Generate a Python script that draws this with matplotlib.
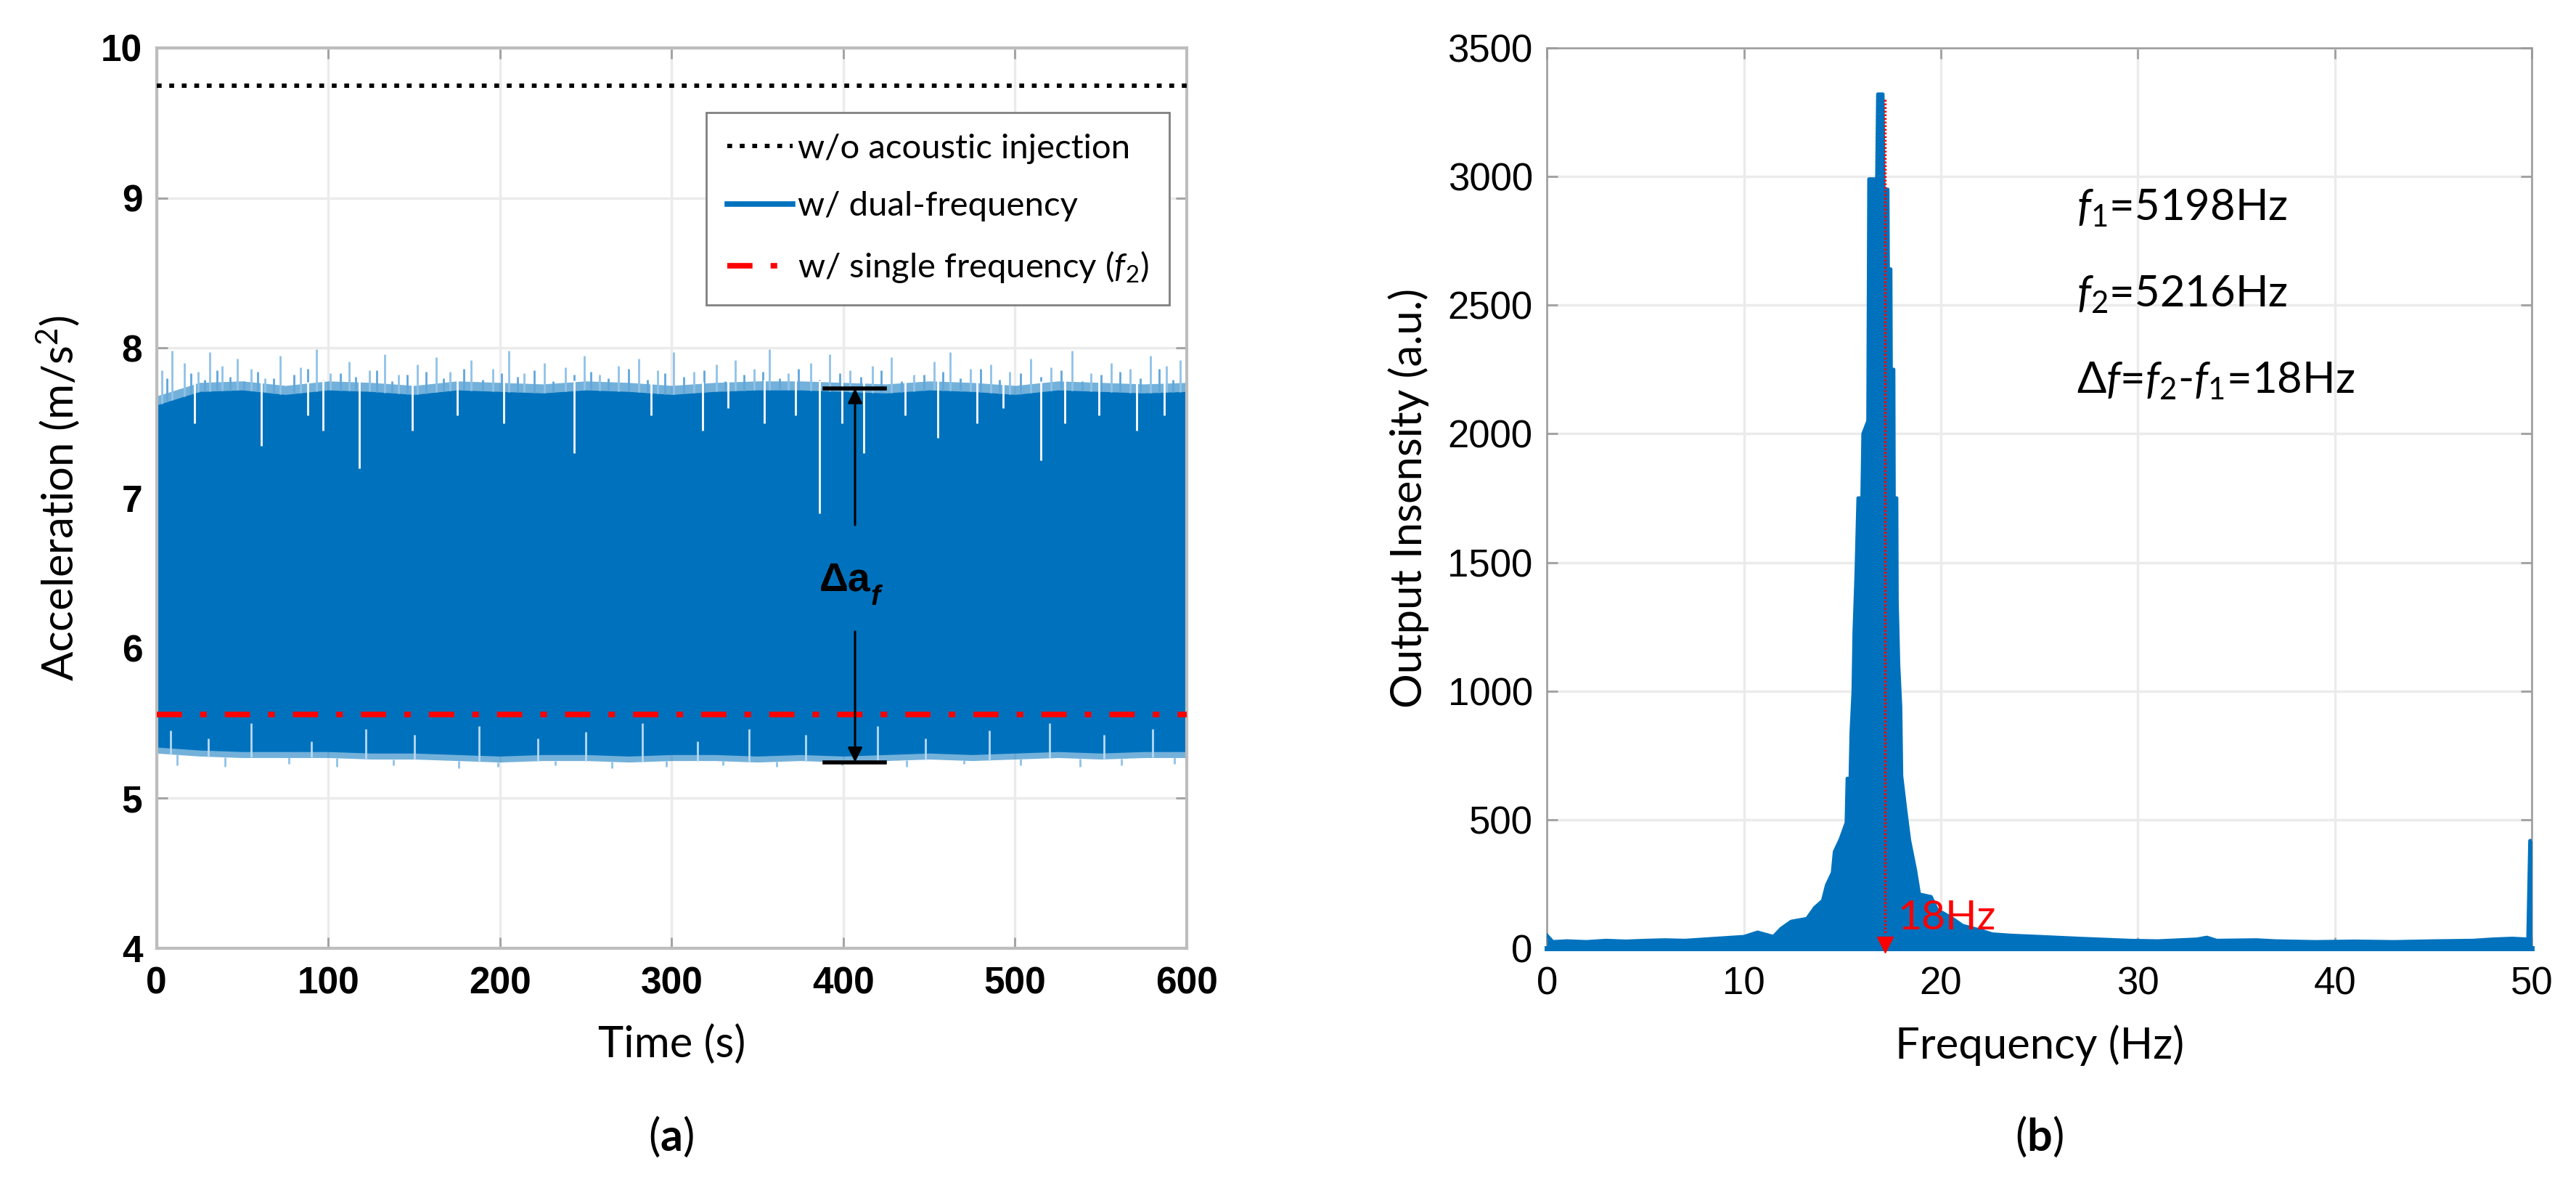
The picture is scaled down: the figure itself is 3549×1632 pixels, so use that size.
import numpy as np
import matplotlib
matplotlib.use("Agg")
import matplotlib.pyplot as plt

plt.rcParams['mathtext.fontset'] = 'custom'
plt.rcParams['mathtext.rm'] = 'Lato'
plt.rcParams['mathtext.it'] = 'Lato:italic'
plt.rcParams['mathtext.bf'] = 'Lato:bold'
plt.rcParams['lines.scale_dashes'] = False

BLUE = '#0072BD'
LIGHT = '#8fc2e8'
LABEL_FONT = 'Lato'
TICK_FONT = 'Liberation Sans'

#---------------- panel (a) data: acceleration vs time ----------------
t_env = [0, 25, 50, 75, 100, 125, 150, 175, 200, 225, 250, 275, 300,
         325, 350, 375, 400, 425, 450, 475, 500, 525, 550, 575, 600]
upper_env = [7.62, 7.71, 7.72, 7.69, 7.72, 7.71, 7.69, 7.72, 7.71, 7.70, 7.72, 7.71, 7.69,
             7.71, 7.72, 7.72, 7.71, 7.70, 7.72, 7.71, 7.69, 7.72, 7.71, 7.70, 7.71]
lower_env = [5.30, 5.28, 5.27, 5.27, 5.27, 5.26, 5.26, 5.25, 5.24, 5.25, 5.25, 5.24, 5.25,
             5.25, 5.24, 5.25, 5.24, 5.25, 5.26, 5.25, 5.26, 5.27, 5.26, 5.27, 5.27]

# tall light spikes above the band
up_spike_t = [3, 9, 16, 24, 31, 38, 47, 55, 63, 72, 84, 93, 101, 112, 124, 133, 141, 152, 163, 171,
              183, 196, 205, 214, 226, 238, 249, 258, 269, 281, 292, 301, 313, 326, 337, 348, 357, 368, 381, 392,
              404, 417, 428, 441, 453, 462, 474, 486, 497, 509, 521, 533, 544, 556, 567, 579, 588, 596]
up_spike_v = [7.85, 7.98, 7.90, 7.84, 7.97, 7.88, 7.93, 7.86, 7.80, 7.95, 7.87, 7.99, 7.83, 7.91, 7.85, 7.96, 7.82, 7.89, 7.94, 7.84,
              7.92, 7.86, 7.98, 7.83, 7.90, 7.87, 7.95, 7.82, 7.88, 7.93, 7.85, 7.97, 7.84, 7.89, 7.92, 7.86, 7.99, 7.83, 7.90, 7.96,
              7.85, 7.88, 7.94, 7.82, 7.91, 7.97, 7.86, 7.89, 7.84, 7.93, 7.87, 7.98, 7.83, 7.90, 7.86, 7.95, 7.88, 7.92]

# shorter spikes in the fringe
mid_spike_t = [6, 20, 28, 35, 43, 51, 59, 68, 80, 88, 97, 107, 116, 128, 137, 146, 157, 167, 179, 190,
               201, 210, 220, 231, 243, 253, 263, 275, 286, 296, 307, 319, 331, 342, 353, 363, 374, 386, 398, 410,
               422, 434, 447, 458, 468, 480, 491, 503, 515, 527, 539, 550, 561, 573, 584, 592]
mid_spike_v = [7.80, 7.83, 7.79, 7.85, 7.81, 7.78, 7.84, 7.80, 7.82, 7.86, 7.79, 7.83, 7.81, 7.85, 7.78, 7.82, 7.84, 7.80, 7.86, 7.79,
               7.83, 7.81, 7.85, 7.78, 7.82, 7.84, 7.80, 7.86, 7.79, 7.83, 7.81, 7.85, 7.78, 7.82, 7.84, 7.80, 7.86, 7.79, 7.83, 7.81,
               7.85, 7.78, 7.82, 7.84, 7.80, 7.86, 7.79, 7.83, 7.81, 7.85, 7.78, 7.82, 7.84, 7.80, 7.86, 7.79]

# white gaps reaching down from the top of the band
notch_t = [22, 61, 88, 97, 118, 149, 175, 202, 243, 288, 318, 333, 354, 372, 386, 399, 412, 436, 455, 478,
           493, 515, 529, 549, 571, 587]
notch_v = [7.50, 7.35, 7.55, 7.45, 7.20, 7.45, 7.55, 7.50, 7.30, 7.55, 7.45, 7.60, 7.50, 7.55, 6.90, 7.50, 7.30, 7.55, 7.40, 7.50,
           7.60, 7.25, 7.50, 7.55, 7.45, 7.55]

# light streaks at the bottom of the band
lo_notch_t = [8, 30, 55, 90, 122, 150, 188, 222, 250, 283, 315, 345, 378, 420, 448, 485, 520, 552, 580]
lo_notch_v = [5.45, 5.40, 5.50, 5.38, 5.46, 5.42, 5.48, 5.40, 5.44, 5.50, 5.38, 5.46, 5.42, 5.48, 5.40, 5.45, 5.50, 5.42, 5.46]

lo_spike_t = [12, 40, 77, 105, 138, 176, 199, 232, 265, 297, 330, 361, 399, 437, 470, 503, 538, 562, 593]
lo_spike_v = [5.22, 5.21, 5.23, 5.21, 5.22, 5.20, 5.21, 5.22, 5.20, 5.21, 5.22, 5.21, 5.22, 5.21, 5.23, 5.22, 5.21, 5.22, 5.23]

no_injection = 9.75
single_freq = 5.56

# delta a_f marker
da_t = 406.8
da_top = 7.73
da_bottom = 5.24
da_bar = [389, 424]

#---------------- panel (b) data: spectrum ----------------
freq_hz = [0, 0.3, 1, 2, 3, 4, 5, 6, 7, 8, 9, 10, 10.7, 11.5, 11.9, 12.4, 13.2, 13.6, 14.0, 14.2,
           14.5, 14.6, 14.9, 15.2, 15.25, 15.4, 15.45, 15.55, 15.6, 15.7, 15.8, 16.0, 16.05, 16.3, 16.35, 16.75,
           16.8, 17.05, 17.1, 17.3, 17.32, 17.45, 17.47, 17.6, 17.62, 17.75, 17.77, 17.85, 17.95, 18.0,
           18.2, 18.4, 18.7, 18.9, 19.5, 19.8, 20.5, 21.1, 22.0, 22.6, 23.5, 25, 27, 29.6, 31, 33, 33.5,
           34, 36, 37, 39, 41, 43, 45, 47, 48, 49, 49.8, 49.9, 50]
intensity = [50, 25, 28, 25, 30, 27, 30, 32, 30, 35, 40, 45, 62, 45, 77, 104, 115, 158, 185, 245,
             294, 375, 424, 488, 660, 660, 840, 1000, 1230, 1450, 1750, 1750, 2000, 2050, 2990, 2990,
             3320, 3320, 2950, 2950, 2640, 2640, 2250, 2250, 1750, 1750, 1350, 1100, 940, 670,
             540, 420, 305, 210, 200, 150, 120, 88, 70, 55, 50, 45, 38, 30, 28, 35, 42,
             30, 32, 28, 25, 27, 25, 28, 30, 35, 38, 35, 418, 418]

beat_marker_f = 17.16
beat_marker_top = 3300
beat_marker_tip = 15

fig = plt.figure(figsize=(35.49, 16.32), dpi=100)

#====================== panel (a) ======================
ax1 = fig.add_axes([0.0608, 0.1998, 0.3999, 0.7598])
ax1.fill_between(t_env, np.array(lower_env), np.array(upper_env) + 0.06, color=BLUE, alpha=0.55, lw=0, zorder=2)
ax1.fill_between(t_env, np.array(lower_env) + 0.04, upper_env, color=BLUE, lw=0, zorder=2)
ax1.vlines(up_spike_t, np.interp(up_spike_t, t_env, upper_env), up_spike_v, color=LIGHT, lw=2.0, zorder=2)
ax1.vlines(mid_spike_t, np.interp(mid_spike_t, t_env, upper_env), mid_spike_v, color='#5fa6dc', lw=2.0, zorder=2)
ax1.vlines(notch_t, notch_v, np.interp(notch_t, t_env, upper_env) + 0.07, color='white', lw=2.0, zorder=2)
ax1.vlines(lo_notch_t, np.interp(lo_notch_t, t_env, lower_env), lo_notch_v, color='#b9d9f1', lw=2.0, zorder=2)
ax1.vlines(lo_spike_t, lo_spike_v, np.interp(lo_spike_t, t_env, lower_env), color=LIGHT, lw=2.0, zorder=2)

l1, = ax1.plot([0, 600], [no_injection, no_injection], color='black', lw=4.3,
               linestyle=(0, (4.8, 7.6)), zorder=3)
l2, = ax1.plot([], [], color=BLUE, lw=5.5)
l3, = ax1.plot([0, 600], [single_freq, single_freq], color='red', lw=5.5,
               linestyle=(0, (25, 18, 6.5, 18)), zorder=3)

# delta a_f annotation
ax1.plot(da_bar, [da_top, da_top], color='black', lw=4, zorder=4)
ax1.plot(da_bar, [da_bottom, da_bottom], color='black', lw=4, zorder=4)
ax1.annotate('', xy=(da_t, da_top), xytext=(da_t, 6.82),
             arrowprops=dict(arrowstyle='-|>', color='black', lw=2.2, mutation_scale=30,
                             shrinkA=0, shrinkB=0), zorder=4)
ax1.annotate('', xy=(da_t, da_bottom), xytext=(da_t, 6.11),
             arrowprops=dict(arrowstyle='-|>', color='black', lw=2.2, mutation_scale=30,
                             shrinkA=0, shrinkB=0), zorder=4)
da_txt = ax1.text(400.8, 6.45, 'Δa', fontsize=40, fontweight='bold', family=TICK_FONT,
                  ha='center', va='center', zorder=5)
ax1.annotate('f', xy=(1.0, 0.05), xycoords=da_txt, fontsize=28, fontweight='bold',
             fontstyle='italic', family=TICK_FONT, ha='left', va='center', zorder=5)

ax1.set_xlim(0, 600)
ax1.set_ylim(4, 10)
ax1.set_xticks(np.arange(0, 601, 100))
ax1.set_yticks(np.arange(4, 11, 1))
ax1.set_xlabel('Time (s)', family=LABEL_FONT, fontsize=43, labelpad=22)
ax1.set_ylabel('Acceleration (m/s$^{2}$)', family=LABEL_FONT, fontsize=43, labelpad=18)

leg = ax1.legend([l1, l2, l3],
                 ['w/o acoustic injection', 'w/ dual-frequency', r'w/ single frequency ($f_{\mathit{2}}$)'],
                 loc='upper right', bbox_to_anchor=(0.983, 0.928), prop={'family': LABEL_FONT, 'size': 34},
                 frameon=True, fancybox=False, edgecolor='#808080', framealpha=1,
                 handlelength=1.9, handletextpad=0.15, borderpad=0.6, labelspacing=0.8,
                 borderaxespad=0)
leg.get_frame().set_linewidth(2)

for lab in ax1.get_xticklabels() + ax1.get_yticklabels():
    lab.set_family(TICK_FONT)
    lab.set_fontweight('bold')
    lab.set_fontsize(37)
ax1.tick_params(direction='in', length=11, width=2, color='#a0a0a0', pad=18,
                top=True, right=True)
ax1.tick_params(axis='y', pad=14)
ax1.grid(True, color='#ebebeb', lw=2.5, zorder=0)
ax1.set_axisbelow(True)
for sp in ax1.spines.values():
    sp.set_color('#bdbdbd')
    sp.set_linewidth(3)

#====================== panel (b) ======================
ax2 = fig.add_axes([0.6005, 0.1998, 0.3824, 0.7598])
ax2.fill_between(freq_hz, 0, intensity, color=BLUE, lw=0, zorder=3)
ax2.plot(freq_hz, intensity, color=BLUE, lw=3.5, zorder=3)
ax2.plot(freq_hz, np.zeros(len(freq_hz)), color=BLUE, lw=5, zorder=3, clip_on=False)

ax2.plot([beat_marker_f, beat_marker_f], [beat_marker_top, beat_marker_tip + 40], color='red',
         lw=2.5, linestyle=(0, (1.8, 1.8)), zorder=4)
ax2.plot(beat_marker_f, beat_marker_tip, marker='v', color='red', markersize=16, zorder=4, clip_on=False)
ax2.text(17.8, 116, '18Hz', color='red', family=LABEL_FONT, fontsize=41, ha='left', va='center', zorder=5)

ax2.text(26.9, 2830, r'$f_{\mathit{1}}$=5198Hz', family=LABEL_FONT, fontsize=43, ha='left', va='baseline')
ax2.text(26.9, 2493, r'$f_{\mathit{2}}$=5216Hz', family=LABEL_FONT, fontsize=43, ha='left', va='baseline')
ax2.text(26.9, 2156, r'$\mathit{Δf}$=$f_{\mathit{2}}$-$f_{\mathit{1}}$=18Hz', family=LABEL_FONT, fontsize=43,
         ha='left', va='baseline')

ax2.set_xlim(0, 50)
ax2.set_ylim(0, 3500)
ax2.set_xticks(np.arange(0, 51, 10))
ax2.set_yticks(np.arange(0, 3501, 500))
ax2.set_xlabel('Frequency (Hz)', family=LABEL_FONT, fontsize=43, labelpad=22)
ax2.set_ylabel('Output Insensity (a.u.)', family=LABEL_FONT, fontsize=43, labelpad=18)
for lab in ax2.get_xticklabels() + ax2.get_yticklabels():
    lab.set_family(TICK_FONT)
    lab.set_fontsize(38)
ax2.tick_params(direction='in', length=11, width=2, color='#a0a0a0', pad=18,
                top=True, right=True)
ax2.tick_params(axis='y', pad=14)
ax2.grid(True, color='#ebebeb', lw=2.5, zorder=0)
ax2.set_axisbelow(True)
for sp in ax2.spines.values():
    sp.set_color('#9a9a9a')
    sp.set_linewidth(1.8)

fig.text(0.2606, 0.041, r'($\mathbf{a}$)', family=LABEL_FONT, fontsize=44, ha='center', va='center')
fig.text(0.7917, 0.041, r'($\mathbf{b}$)', family=LABEL_FONT, fontsize=44, ha='center', va='center')

fig.savefig('out.png', dpi=100)
